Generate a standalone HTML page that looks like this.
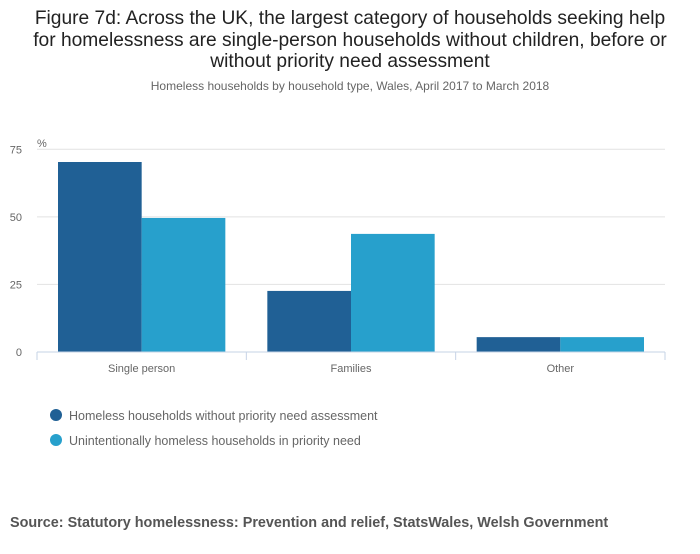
<!DOCTYPE html>
<html><head><meta charset="utf-8"><style>
body{margin:0;background:#fff;font-family:"Liberation Sans",sans-serif;}
svg text{font-family:"Liberation Sans",sans-serif;}
</style></head><body>
<svg id="chart" width="700" height="549" viewBox="0 0 700 549">
<g font-size="19.2" fill="#222" text-anchor="middle">
<text x="350" y="24">Figure 7d: Across the UK, the largest category of households seeking help</text>
<text x="350" y="46">for homelessness are single-person households without children, before or</text>
<text x="350" y="67">without priority need assessment</text>
</g>
<text x="350" y="90" font-size="12" fill="#666" text-anchor="middle">Homeless households by household type, Wales, April 2017 to March 2018</text>
<text x="37" y="147" font-size="11" fill="#666">%</text>
<g id="grid"></g><g id="bars"></g><g id="xaxis"></g>
<g font-size="12.5" fill="#666">
<g><circle cx="56" cy="415" r="6" fill="#206095"/><text x="69" y="420">Homeless households without priority need assessment</text></g>
<g><circle cx="56" cy="440" r="6" fill="#27a0cc"/><text x="69" y="445">Unintentionally homeless households in priority need</text></g>
</g>
<text x="10" y="527" font-size="14.4" font-weight="bold" fill="#555">Source: Statutory homelessness: Prevention and relief, StatsWales, Welsh Government</text>
</svg>
<script>
const categories=["Single person","Families","Other"];
const seriesA=[70.3,22.6,5.5];
const seriesB=[49.6,43.7,5.5];
const yTicks=[0,25,50,75];
const colors=["#206095","#27a0cc"];
const NS="http://www.w3.org/2000/svg";
const x0=37,x1=665,y0=352,yTop=149.3,yMax=75;
const bw=(x1-x0)/categories.length;
const y=v=>y0-(v/yMax)*(y0-yTop);
function mk(t,a,p){const e=document.createElementNS(NS,t);for(const k in a)e.setAttribute(k,a[k]);p.appendChild(e);return e;}
const grid=document.getElementById('grid');
yTicks.forEach(t=>{
 if(t>0){const l=mk('line',{x1:x0,x2:x1,y1:y(t),y2:y(t),stroke:'#e2e2e2'},grid);
 
 }
 const tx=mk('text',{x:22,y:y(t)+4,'font-size':11,fill:'#666','text-anchor':'end'},grid);tx.textContent=t;
 
 
});
const bars=document.getElementById('bars');
const pad=21,inner=bw-2*pad;
categories.forEach((c,i)=>{
 [seriesA,seriesB].forEach((s,j)=>{
  const bx=x0+i*bw+pad+j*inner/2;
  const r=mk('rect',{x:bx,y:y(s[i]),width:inner/2,height:y0-y(s[i]),fill:colors[j]},bars);
  
  
 });
});
const xa=document.getElementById('xaxis');
const ax=mk('line',{x1:x0,x2:x1,y1:y0,y2:y0,stroke:'#c6d3e6'},xa);


for(let i=0;i<=categories.length;i++){const xx=x0+i*bw;mk('line',{x1:xx,x2:xx,y1:y0,y2:y0+8,stroke:'#c6d3e6'},xa);}
categories.forEach((c,i)=>{
 const t=mk('text',{x:x0+(i+0.5)*bw,y:372,'font-size':11,fill:'#666','text-anchor':'middle'},xa);t.textContent=c;
 
 
});
</script>
</body></html>
